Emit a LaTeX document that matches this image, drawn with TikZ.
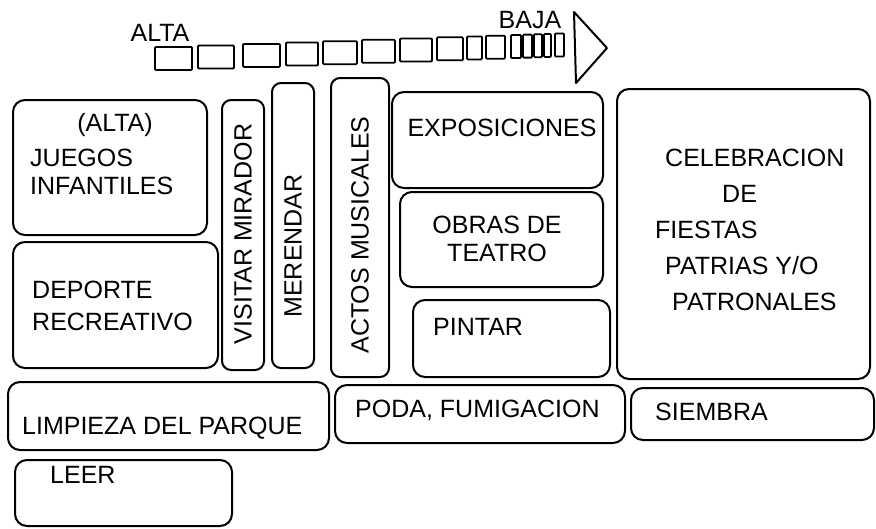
\documentclass[tikz,border=0pt]{standalone}
\usepackage{fontspec}
\setmainfont{Liberation Sans}
\begin{document}
\begin{tikzpicture}[x=1pt,y=-1pt,
  box/.style={draw, line width=2pt, rounded corners=12pt, inner sep=0pt},
  narrowbox/.style={box, rounded corners=9pt},
  sqbox/.style={draw, line width=1.8pt, rounded corners=1pt, inner sep=0pt, minimum height=23pt},
  lbl/.style={inner sep=0pt, font=\fontsize{25}{30}\selectfont},
  mlbl/.style={lbl, align=left},
  arrowtri/.style={line width=2pt, line join=round}
]
\useasboundingbox (0,0) rectangle (876,528);

% priority scale
\node[lbl] (alta) at (160,33) {ALTA};
\node[lbl] (baja) at (530,20) {BAJA};
\foreach \a/\b/\t [count=\i] in {155/192/47,198/234/45.5,243/280/43.9,286/318/42.5,323/357/41.2,362/395/39.8,400/432/38.5,437/463/37.3,467/482/36.4,486/505/35.7,511/521/35,523/532/34.6,534/542/34.2,544/551/33.9,555/564/33.5}
  \node[sqbox, minimum width={(\b-\a)*1pt}] (sq\i) at ({(\a+\b)/2},{\t+11.5}) {};
\coordinate (tA) at (574,12);
\coordinate (tB) at (576,83);
\coordinate (tC) at (607,48);
\draw[arrowtri] (tA) -- (tB) -- (tC) -- cycle;

% boxes
\node[box, minimum width=194pt, minimum height=135pt] (juegos) at (110,167.5) {};
\node[box, minimum width=205pt, minimum height=126pt] (deporte) at (115.5,305) {};
\node[narrowbox, minimum width=42pt, minimum height=270pt] (visitar) at (243,235) {};
\node[narrowbox, minimum width=42pt, minimum height=285pt] (merendar) at (293,225.5) {};
\node[narrowbox, minimum width=58pt, minimum height=299pt] (actos) at (360,227.5) {};
\node[box, minimum width=211pt, minimum height=96pt] (expos) at (497.5,140) {};
\node[box, minimum width=203pt, minimum height=95pt] (obras) at (501.5,239.5) {};
\node[box, minimum width=197pt, minimum height=77pt] (pintar) at (511.5,338.5) {};
\node[box, minimum width=253pt, minimum height=290pt] (celeb) at (743.5,234) {};
\node[box, minimum width=321pt, minimum height=68pt] (limpieza) at (168.5,416) {};
\node[box, minimum width=290pt, minimum height=58pt] (poda) at (480,414) {};
\node[box, minimum width=243pt, minimum height=52pt] (siembra) at (752.5,414) {};
\node[box, minimum width=217pt, minimum height=66pt] (leer) at (123.5,493) {};

% texts
\node[lbl] (altaj) at (115,125) {(ALTA)};
\node[mlbl, anchor=west, font=\fontsize{25}{28}\selectfont] (juegostxt) at (30,172) {JUEGOS\\INFANTILES};
\node[mlbl, anchor=west, font=\fontsize{25}{32}\selectfont] (deportetxt) at (32,306) {DEPORTE\\RECREATIVO};
\node[lbl, rotate=90] (visitartxt) at (243,234) {VISITAR MIRADOR};
\node[lbl, rotate=90] (merendartxt) at (293,246) {MERENDAR};
\node[lbl, rotate=90] (actostxt) at (360,235) {ACTOS MUSICALES};
\node[lbl] (expostxt) at (502,128) {EXPOSICIONES};
\node[lbl, align=center, font=\fontsize{25}{28}\selectfont] (obrastxt) at (497,239) {OBRAS DE\\TEATRO};
\node[lbl, anchor=west] (pintartxt) at (433,327) {PINTAR};
\node[mlbl, anchor=west, font=\fontsize{25}{36}\selectfont] (celebtxt) at (655,230)
  {\hspace*{10pt}CELEBRACION\\\hspace*{67pt}DE\\FIESTAS\\\hspace*{10pt}PATRIAS Y/O\\\hspace*{17pt}PATRONALES};
\node[lbl, anchor=west] (limpiezatxt) at (22,428) {LIMPIEZA DEL PARQUE};
\node[lbl, anchor=west] (podatxt) at (355,410) {PODA, FUMIGACION};
\node[lbl, anchor=west] (siembratxt) at (655,412) {SIEMBRA};
\node[lbl, anchor=west] (leertxt) at (50,475) {LEER};
\end{tikzpicture}
\end{document}
